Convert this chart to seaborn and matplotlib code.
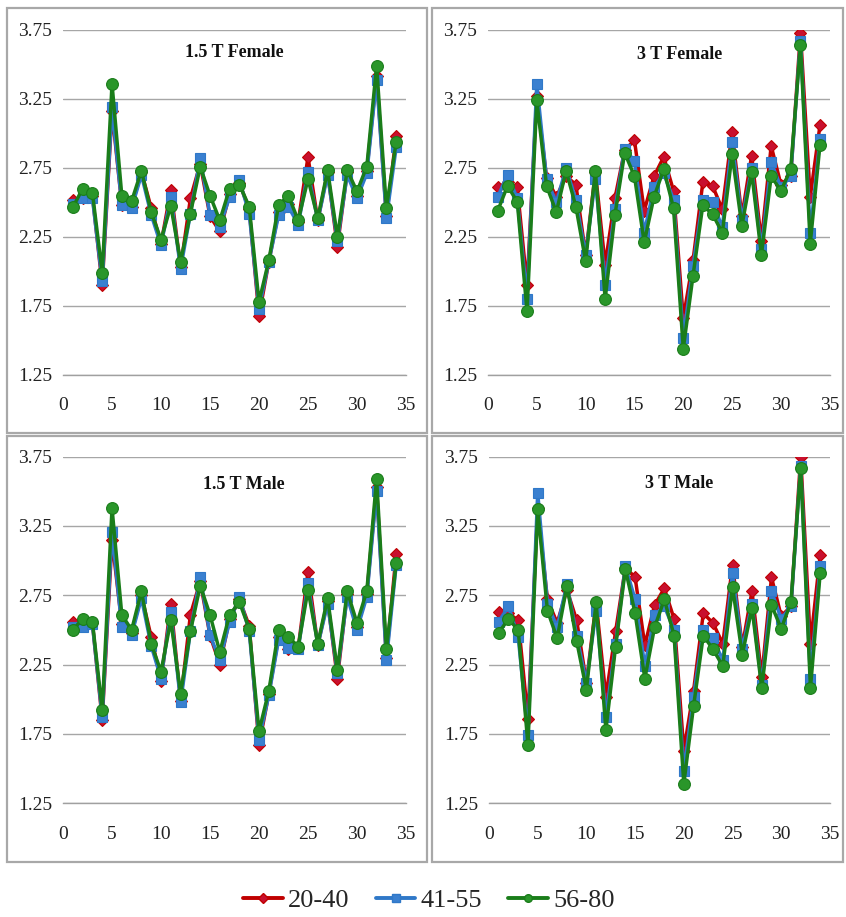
import numpy as np
import pandas as pd
import seaborn as sns
import matplotlib
matplotlib.use("Agg")
import matplotlib.pyplot as plt
from matplotlib.lines import Line2D
from matplotlib.patches import Rectangle

# Measurement index along the x axis
subjects = list(range(1, 35))
groups = ["20-40", "41-55", "56-80"]

# 1.5 T Female
f15_2040 = [2.52, 2.53, 2.55, 1.90, 3.16, 2.48, 2.47, 2.72, 2.46, 2.20, 2.59, 2.03, 2.53, 2.78, 2.40, 2.29, 2.56,
            2.64, 2.45, 1.68, 2.07, 2.43, 2.49, 2.36, 2.83, 2.37, 2.72, 2.18, 2.72, 2.55, 2.73, 3.42, 2.40, 2.98]
f15_4155 = [2.49, 2.53, 2.53, 1.93, 3.19, 2.48, 2.46, 2.70, 2.41, 2.19, 2.54, 2.02, 2.42, 2.82, 2.41, 2.325, 2.54,
            2.66, 2.42, 1.73, 2.07, 2.41, 2.47, 2.34, 2.72, 2.37, 2.70, 2.22, 2.70, 2.53, 2.71, 3.39, 2.385, 2.90]
f15_5680 = [2.465, 2.60, 2.57, 1.99, 3.36, 2.55, 2.51, 2.73, 2.43, 2.23, 2.475, 2.07, 2.42, 2.76, 2.55, 2.37, 2.60,
            2.63, 2.47, 1.78, 2.08, 2.48, 2.55, 2.37, 2.67, 2.385, 2.735, 2.25, 2.735, 2.58, 2.76, 3.49, 2.46, 2.94]

# 3 T Female
f3_2040 = [2.61, 2.645, 2.61, 1.90, 3.27, 2.68, 2.54, 2.69, 2.63, 2.12, 2.72, 2.05, 2.53, 2.88, 2.95, 2.44, 2.69,
           2.83, 2.585, 1.66, 2.08, 2.645, 2.62, 2.45, 3.01, 2.40, 2.84, 2.22, 2.91, 2.63, 2.69, 3.73, 2.54, 3.06]
f3_4155 = [2.54, 2.70, 2.53, 1.80, 3.36, 2.67, 2.50, 2.75, 2.52, 2.12, 2.67, 1.905, 2.45, 2.89, 2.80, 2.28, 2.61,
           2.71, 2.52, 1.52, 2.04, 2.52, 2.50, 2.32, 2.94, 2.37, 2.75, 2.16, 2.79, 2.61, 2.69, 3.67, 2.28, 2.96]
f3_5680 = [2.44, 2.62, 2.505, 1.71, 3.24, 2.62, 2.43, 2.73, 2.47, 2.075, 2.73, 1.80, 2.41, 2.86, 2.69, 2.21, 2.54,
           2.74, 2.46, 1.44, 1.97, 2.48, 2.415, 2.28, 2.85, 2.33, 2.72, 2.12, 2.69, 2.585, 2.74, 3.64, 2.20, 2.92]

# 1.5 T Male
m15_2040 = [2.56, 2.54, 2.55, 1.85, 3.15, 2.54, 2.48, 2.75, 2.45, 2.13, 2.69, 1.99, 2.61, 2.85, 2.46, 2.25, 2.58,
            2.72, 2.53, 1.67, 2.04, 2.45, 2.36, 2.37, 2.92, 2.39, 2.71, 2.15, 2.76, 2.52, 2.76, 3.53, 2.30, 3.05]
m15_4155 = [2.52, 2.52, 2.54, 1.875, 3.21, 2.52, 2.465, 2.73, 2.385, 2.15, 2.63, 1.98, 2.49, 2.88, 2.465, 2.28, 2.56,
            2.74, 2.49, 1.71, 2.03, 2.43, 2.37, 2.36, 2.84, 2.39, 2.69, 2.19, 2.74, 2.50, 2.74, 3.50, 2.28, 2.97]
m15_5680 = [2.50, 2.58, 2.56, 1.92, 3.38, 2.61, 2.50, 2.78, 2.40, 2.20, 2.57, 2.04, 2.49, 2.82, 2.61, 2.34, 2.61,
            2.70, 2.51, 1.77, 2.06, 2.50, 2.45, 2.38, 2.79, 2.40, 2.73, 2.21, 2.78, 2.55, 2.78, 3.59, 2.36, 2.98]

# 3 T Male
m3_2040 = [2.63, 2.62, 2.57, 1.86, 3.38, 2.72, 2.55, 2.79, 2.57, 2.12, 2.70, 2.02, 2.49, 2.95, 2.88, 2.39, 2.68,
           2.80, 2.58, 1.63, 2.06, 2.62, 2.55, 2.40, 2.97, 2.38, 2.78, 2.16, 2.88, 2.60, 2.67, 3.75, 2.40, 3.04]
m3_4155 = [2.56, 2.67, 2.45, 1.74, 3.49, 2.69, 2.52, 2.83, 2.46, 2.12, 2.64, 1.875, 2.40, 2.96, 2.72, 2.24, 2.61,
           2.67, 2.50, 1.48, 2.02, 2.50, 2.44, 2.28, 2.91, 2.36, 2.69, 2.10, 2.78, 2.58, 2.67, 3.68, 2.15, 2.96]
m3_5680 = [2.48, 2.58, 2.50, 1.67, 3.37, 2.64, 2.44, 2.82, 2.42, 2.07, 2.70, 1.78, 2.38, 2.94, 2.62, 2.15, 2.52,
           2.72, 2.46, 1.39, 1.95, 2.46, 2.36, 2.24, 2.81, 2.32, 2.66, 2.08, 2.68, 2.51, 2.70, 3.67, 2.08, 2.91]

panel_titles = ["1.5 T Female", "3 T Female", "1.5 T Male", "3 T Male"]
panel_series = [
    (f15_2040, f15_4155, f15_5680),
    (f3_2040, f3_4155, f3_5680),
    (m15_2040, m15_4155, m15_5680),
    (m3_2040, m3_4155, m3_5680),
]
x_ticks = [0, 5, 10, 15, 20, 25, 30, 35]
y_ticks = [1.25, 1.75, 2.25, 2.75, 3.25, 3.75]

line_colors = {"20-40": "#c00000", "41-55": "#2f78c8", "56-80": "#1a7d1a"}
marker_face = {"20-40": "#c8102e", "41-55": "#3a80d0", "56-80": "#2a962a"}
marker_shapes = {"20-40": "D", "41-55": "s", "56-80": "o"}
marker_sizes = {"20-40": 6.5, "41-55": 7.5, "56-80": 8.5}

sns.set_style("white")
plt.rcParams["font.family"] = ["Liberation Serif", "DejaVu Serif"]

fig = plt.figure(figsize=(8.46, 9.17), dpi=100)

# Axes rectangles (figure fraction) and framing boxes
axes_rects = [
    [0.0745, 0.5911, 0.4054, 0.3762],
    [0.5768, 0.5911, 0.4040, 0.3762],
    [0.0745, 0.1240, 0.4054, 0.3780],
    [0.5780, 0.1240, 0.4030, 0.3780],
]
box_rects = [
    [0.0083, 0.5278, 0.4965, 0.4635],
    [0.5106, 0.5278, 0.4858, 0.4635],
    [0.0083, 0.0600, 0.4965, 0.4646],
    [0.5106, 0.0600, 0.4858, 0.4646],
]
title_pos = [(12.4, 3.59), (15.3, 3.57), (14.3, 3.55), (16.0, 3.56)]

for box in box_rects:
    fig.patches.append(Rectangle((box[0], box[1]), box[2], box[3], transform=fig.transFigure,
                                 fill=False, edgecolor="#a8a8a8", linewidth=1.6, zorder=0))

for rect, title, series, tpos in zip(axes_rects, panel_titles, panel_series, title_pos):
    ax = fig.add_axes(rect)
    frames = []
    for g, vals in zip(groups, series):
        frames.append(pd.DataFrame({"subject": subjects, "value": vals, "group": g}))
    df = pd.concat(frames, ignore_index=True)

    for g in groups:
        sub = df[df["group"] == g]
        sns.lineplot(data=sub, x="subject", y="value", ax=ax, color=line_colors[g],
                     marker=marker_shapes[g], markersize=marker_sizes[g], linewidth=2.5,
                     markerfacecolor=marker_face[g], markeredgecolor=line_colors[g],
                     markeredgewidth=0.8, legend=False, zorder=3)

    ax.set_xlim(0, 35)
    ax.set_ylim(1.25, 3.75)
    ax.set_xticks(x_ticks)
    ax.set_yticks(y_ticks)
    ax.set_xticklabels([str(t) for t in x_ticks])
    ax.set_yticklabels([f"{t:.2f}" for t in y_ticks])
    ax.set_xlabel("")
    ax.set_ylabel("")
    ax.grid(axis="y", color="#a6a6a6", linewidth=1.0, zorder=0)
    ax.grid(axis="x", visible=False)
    for side in ["top", "right", "left"]:
        ax.spines[side].set_visible(False)
    ax.spines["bottom"].set_color("#a0a0a0")
    ax.spines["bottom"].set_linewidth(1.0)
    ax.tick_params(axis="x", length=5, width=1.0, color="#a0a0a0", pad=11,
                   labelsize=14, labelcolor="#222222", direction="out")
    ax.tick_params(axis="y", length=4, width=1.0, color="#a0a0a0", pad=4,
                   labelsize=14, labelcolor="#222222", direction="out")
    ax.set_axisbelow(True)
    ax.patch.set_alpha(0)
    ax.text(tpos[0], tpos[1], title, fontsize=13, fontweight="bold", ha="left", va="center",
            color="#111111")

handles = [Line2D([0], [0], color=line_colors[g], linewidth=2.8, marker=marker_shapes[g],
                  markersize=5.5, markerfacecolor=marker_face[g], markeredgecolor=line_colors[g])
           for g in groups]
fig.legend(handles, groups, loc="center", bbox_to_anchor=(0.507, 0.0185), ncol=3, frameon=False,
           fontsize=19, handlelength=1.5, handletextpad=0.2, columnspacing=1.0)

fig.savefig("out.png", dpi=100)
